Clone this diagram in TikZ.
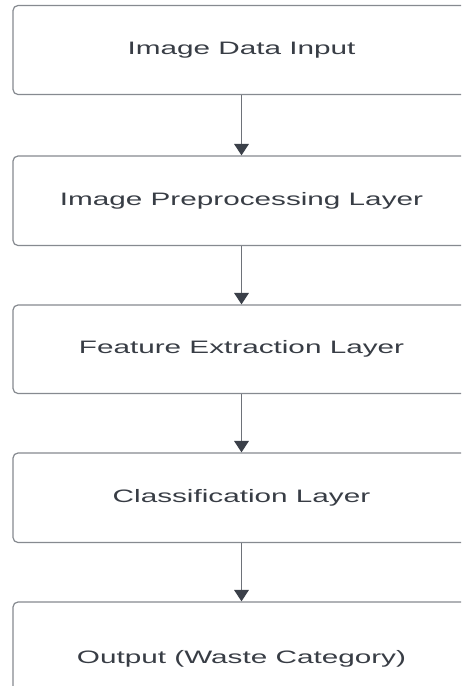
\documentclass[tikz,border=0pt]{standalone}
\usepackage{fontspec}
\setmainfont{Liberation Sans}[FakeStretch=1.65]
\usetikzlibrary{arrows.meta}
\definecolor{boxline}{HTML}{868A90}
\definecolor{arrline}{HTML}{6E7279}
\definecolor{arrhead}{HTML}{3B4049}
\definecolor{txt}{HTML}{383D45}
\tikzset{
  layerbox/.style={draw=boxline, line width=1.2pt, rounded corners=5pt,
    minimum width=457pt, inner sep=0pt, text=txt,
    font=\fontsize{18pt}{20pt}\selectfont, text height=13pt, text depth=4pt},
  flow/.style={draw=arrline, line width=1.8pt,
    -{Triangle[width=14.5pt,length=11.5pt,color=arrhead,fill=arrhead]}}
}
\begin{document}
\begin{tikzpicture}[x=1pt,y=-1pt]
\useasboundingbox (0,0) rectangle (461,686);
\clip (0,0) rectangle (461,686);
\fill[white] (0,0) rectangle (461,686);
\node[layerbox, minimum height=89pt] (b1) at (241.5,50) {Image Data Input};
\node[layerbox, minimum height=89.5pt] (b2) at (241.5,200.75) {Image Preprocessing Layer};
\node[layerbox, minimum height=88.5pt] (b3) at (241.5,349.25) {Feature Extraction Layer};
\node[layerbox, minimum height=89.5pt] (b4) at (241.5,497.75) {Classification Layer};
\node[layerbox, minimum height=113pt] (b5) at (241.5,658.5) {Output (Waste Category)};
\draw[flow] (b1.south) -- (b2.north);
\draw[flow] (b2.south) -- (b3.north);
\draw[flow] (b3.south) -- (b4.north);
\draw[flow] (b4.south) -- (b5.north);
\end{tikzpicture}
\end{document}
